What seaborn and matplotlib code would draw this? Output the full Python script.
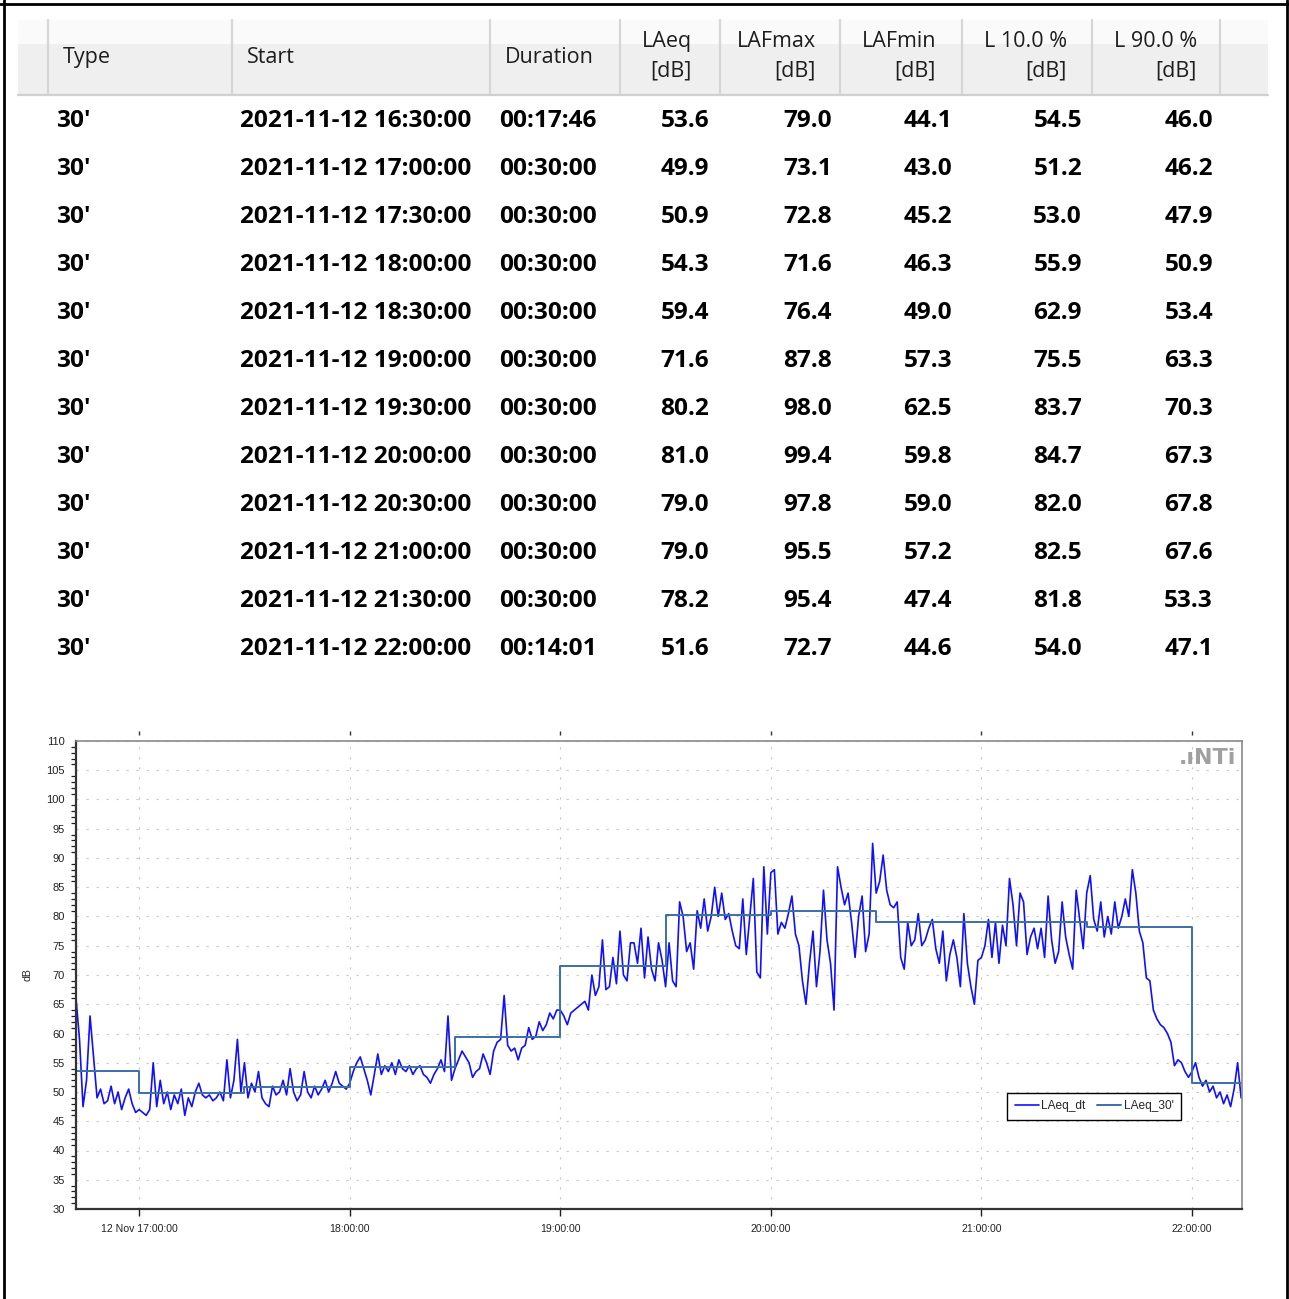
import pandas as pd
import matplotlib.pyplot as plt
import matplotlib.dates as mdates
from matplotlib import font_manager
from matplotlib.lines import Line2D
from matplotlib.patches import Rectangle
from matplotlib.ticker import MultipleLocator
import seaborn as sns

# ---- table data (30 min intervals) ----
types = ["30'"] * 12
starts = ["2021-11-12 16:30:00", "2021-11-12 17:00:00", "2021-11-12 17:30:00",
          "2021-11-12 18:00:00", "2021-11-12 18:30:00", "2021-11-12 19:00:00",
          "2021-11-12 19:30:00", "2021-11-12 20:00:00", "2021-11-12 20:30:00",
          "2021-11-12 21:00:00", "2021-11-12 21:30:00", "2021-11-12 22:00:00"]
durations = ["00:17:46"] + ["00:30:00"] * 10 + ["00:14:01"]
laeq = [53.6, 49.9, 50.9, 54.3, 59.4, 71.6, 80.2, 81.0, 79.0, 79.0, 78.2, 51.6]
lafmax = [79.0, 73.1, 72.8, 71.6, 76.4, 87.8, 98.0, 99.4, 97.8, 95.5, 95.4, 72.7]
lafmin = [44.1, 43.0, 45.2, 46.3, 49.0, 57.3, 62.5, 59.8, 59.0, 57.2, 47.4, 44.6]
l10 = [54.5, 51.2, 53.0, 55.9, 62.9, 75.5, 83.7, 84.7, 82.0, 82.5, 81.8, 54.0]
l90 = [46.0, 46.2, 47.9, 50.9, 53.4, 63.3, 70.3, 67.3, 67.8, 67.6, 53.3, 47.1]

# step edges of the LAeq_30' series
period_edges = ["2021-11-12 16:42:14", "2021-11-12 17:00:00", "2021-11-12 17:30:00",
                "2021-11-12 18:00:00", "2021-11-12 18:30:00", "2021-11-12 19:00:00",
                "2021-11-12 19:30:00", "2021-11-12 20:00:00", "2021-11-12 20:30:00",
                "2021-11-12 21:00:00", "2021-11-12 21:30:00", "2021-11-12 22:00:00",
                "2021-11-12 22:14:01"]

# ---- LAeq_dt, one reading per minute from 16:42 ----
dt_1642 = [66, 59, 47.5, 52, 63, 56, 49, 50.5, 48, 48.5, 51, 48, 50, 47, 49, 50.5, 48, 46.5]
dt_1700 = [47, 46.5, 46, 47, 55, 47.5, 52, 48, 50, 47, 49.5, 48, 50.5, 46, 49,
           47.5, 50, 51.5, 49.5, 49, 49.5, 48.5, 49, 50, 48.5, 55.5, 49, 52, 59, 50]
dt_1730 = [55, 49, 51.5, 50, 53.5, 49, 48, 47.5, 51, 49.5, 50, 52, 49.5, 54, 50,
           48.5, 49.5, 53.5, 50, 49, 51, 49.5, 50.5, 52, 50, 51.5, 53.5, 51.5, 51, 50.5]
dt_1800 = [51.5, 53.5, 55, 56, 54, 52, 49.5, 53, 56.5, 53, 54.5, 53.5, 55, 53, 55.5,
           54, 53.5, 54.5, 53, 54, 54.5, 53, 52.5, 51.5, 53, 54, 55.5, 53.5, 63, 52]
dt_1830 = [54, 55.5, 57, 56, 55, 52.5, 53.5, 54, 56.5, 55, 53, 57, 58.5, 59, 66.5,
           58, 57, 57.5, 55.5, 57.5, 58, 61, 59, 59.5, 62, 60.5, 61.5, 63.5, 62.5, 64]
dt_1900 = [64, 63, 61.5, 63.5, 64, 64.5, 65, 65.5, 64, 70, 66.5, 68, 76, 67.5, 68,
           73, 68.5, 77.5, 70, 69, 75.5, 75.5, 72, 78, 69.5, 76.5, 71, 69, 75.5, 72.5]
dt_1930 = [68, 75.5, 69, 68, 82.5, 80, 74, 75.5, 71, 81, 78, 83, 77.5, 80, 85,
           80, 84, 79.5, 80.5, 77.5, 75, 74.5, 83, 73.5, 80, 86.5, 70.5, 69.5, 88.5, 77]
dt_2000 = [87.5, 88, 77, 79, 78, 80.5, 83.5, 77, 75, 69, 65, 72, 77.5, 68, 74,
           84.5, 76, 72, 64, 88.5, 85, 82, 84, 79, 73, 80, 83.5, 74, 77, 92.5]
dt_2030 = [84, 86, 90.5, 84.5, 82, 81.5, 82.5, 73, 71, 79, 75, 76, 80.5, 75, 76,
           78, 79.5, 74.5, 72, 77.5, 69, 73.5, 76, 73, 68, 80.5, 72, 68, 65, 72.5]
dt_2100 = [73, 75, 79.5, 73, 79, 72, 78.5, 75, 86.5, 82, 75, 84, 82.5, 73.5, 76.5,
           78, 74.5, 78, 73, 83.5, 76, 72, 74, 82.5, 76.5, 73.5, 71, 84.5, 79.5, 74.5]
dt_2130 = [84, 87, 79.5, 77.5, 82.5, 76.5, 80, 77, 82.5, 78, 80, 83, 80, 88, 84,
           77.5, 75.5, 69.5, 69, 64, 62.5, 61.5, 61, 60, 58.5, 54.5, 55.5, 55, 53.5, 52.5]
dt_2200 = [53.5, 55, 52.5, 51, 52, 50, 51, 49, 50, 48, 49.5, 47.5, 50.5, 55, 49]

hour_ticks = ["2021-11-12 17:00", "2021-11-12 18:00", "2021-11-12 19:00",
              "2021-11-12 20:00", "2021-11-12 21:00", "2021-11-12 22:00"]
hour_labels = ["12 Nov 17:00:00", "18:00:00", "19:00:00", "20:00:00", "21:00:00", "22:00:00"]

laeq_dt = (dt_1642 + dt_1700 + dt_1730 + dt_1800 + dt_1830 + dt_1900 + dt_1930
           + dt_2000 + dt_2030 + dt_2100 + dt_2130 + dt_2200)
dt_df = pd.DataFrame({
    "time": pd.date_range("2021-11-12 16:42", periods=len(laeq_dt), freq="1min"),
    "LAeq_dt": laeq_dt,
})
step_df = pd.DataFrame({"time": pd.to_datetime(period_edges), "LAeq_30": laeq + [laeq[-1]]})

sns.set_style("white")
plt.rcParams["font.family"] = ["Open Sans", "DejaVu Sans"]
installed = {f.name for f in font_manager.fontManager.ttflist}
narrow = "Liberation Sans Narrow" if "Liberation Sans Narrow" in installed else "Liberation Sans"
tick_size = 8.5 if narrow == "Liberation Sans Narrow" else 7.6

W, H = 1289, 1299
fig = plt.figure(figsize=(W / 100, H / 100), dpi=100)
fig.patch.set_facecolor("white")


def fx(x):
    return x / W


def fy(y):
    return 1 - y / H


# screenshot border
for xs, ys in [([4, 4], [0, H]), ([0, W], [4, 4]), ([1287, 1287], [0, H])]:
    fig.add_artist(Line2D([fx(v) for v in xs], [fy(v) for v in ys], color="black", lw=2))

# ---- table header ----
fig.add_artist(Rectangle((fx(18), fy(94)), fx(1268) - fx(18), fy(20) - fy(94),
                         transform=fig.transFigure, facecolor="#efefef", edgecolor="none"))
fig.add_artist(Rectangle((fx(18), fy(44)), fx(1268) - fx(18), fy(20) - fy(44),
                         transform=fig.transFigure, facecolor="#fafafa", edgecolor="none"))
for x in [48, 232, 490, 620, 720, 840, 962, 1092, 1220]:
    fig.add_artist(Line2D([fx(x), fx(x)], [fy(20), fy(93)], color="#d6d6d6", lw=1.6))
fig.add_artist(Line2D([fx(18), fx(1268)], [fy(95), fy(95)], color="#d0d0d0", lw=1.6))

hdr = dict(fontsize=15.5, color="#1e1e1e")
fig.text(fx(63), fy(63), "Type", ha="left", va="baseline", **hdr)
fig.text(fx(247), fy(63), "Start", ha="left", va="baseline", **hdr)
fig.text(fx(505), fy(63), "Duration", ha="left", va="baseline", **hdr)
for name, xr in [("LAeq", 692), ("LAFmax", 816), ("LAFmin", 936), ("L 10.0 %", 1067), ("L 90.0 %", 1197)]:
    fig.text(fx(xr), fy(47), name, ha="right", va="baseline", **hdr)
    fig.text(fx(xr), fy(77), "[dB]", ha="right", va="baseline", **hdr)

# ---- table rows ----
cell = dict(fontsize=17.6, fontweight="bold", color="black", va="baseline")
for i in range(len(starts)):
    yb = fy(127 + 48 * i)
    fig.text(fx(56), yb, types[i], ha="left", **cell)
    fig.text(fx(240), yb, starts[i], ha="left", **cell)
    fig.text(fx(499), yb, durations[i], ha="left", **cell)
    for col, xr in [(laeq, 709), (lafmax, 832), (lafmin, 952), (l10, 1082), (l90, 1213)]:
        fig.text(fx(xr), yb, f"{col[i]:.1f}", ha="right", **cell)

# ---- chart ----
ax = fig.add_axes([fx(76), fy(1209), fx(1242) - fx(76), fy(741) - fy(1209)])
sns.lineplot(data=dt_df, x="time", y="LAeq_dt", ax=ax, color="#1010ff", lw=1.2,
             label="LAeq_dt", estimator=None)
sns.lineplot(data=step_df, x="time", y="LAeq_30", ax=ax, color="#3a6fa8", lw=1.4,
             drawstyle="steps-post", label="LAeq_30'", estimator=None)

ax.set_xlim(pd.Timestamp("2021-11-12 16:42:00"), pd.Timestamp("2021-11-12 22:14:15"))
ax.set_ylim(30, 110)
ticks = mdates.date2num(pd.to_datetime(hour_ticks))
ax.set_xticks(ticks)
ax.set_xticklabels(hour_labels)
ax.yaxis.set_major_locator(MultipleLocator(5))
ax.yaxis.set_minor_locator(MultipleLocator(1))
ax.tick_params(axis="y", which="major", direction="out", length=5, width=1, color="#202020",
               labelsize=tick_size + 0.4, pad=3, labelcolor="#222222")
ax.tick_params(axis="y", which="minor", direction="out", length=3.5, width=0.9, color="#202020", left=True)
ax.tick_params(axis="x", which="major", direction="out", length=5, width=1, color="#202020",
               labelsize=tick_size, pad=6, labelcolor="#222222", bottom=True)
for lbl in ax.get_xticklabels() + ax.get_yticklabels():
    lbl.set_family(narrow)

ax.grid(True, which="major", color="#c8c8c8", linestyle=(0, (2, 7)), linewidth=0.8)
for side in ["left", "bottom"]:
    ax.spines[side].set_color("#333333")
    ax.spines[side].set_linewidth(1.6)
for side in ["top", "right"]:
    ax.spines[side].set_color("#8a8a8a")
    ax.spines[side].set_linewidth(1.2)

# detached hour marks above the plot
top = ax.secondary_xaxis(1 + 10 / 468)
top.set_xticks(ticks)
top.tick_params(direction="in", length=3, width=1, color="#333333", labeltop=False)
top.spines["top"].set_visible(False)

ax.set_xlabel("")
ax.set_ylabel("dB", fontsize=tick_size, family=narrow)
ax.yaxis.set_label_coords(-0.037, 0.5)

ax.text(0.995, 0.985, ".ıNTi", transform=ax.transAxes, ha="right", va="top",
        fontsize=16, fontweight="bold", color="#a0a0a0", family="DejaVu Sans")

leg = ax.legend(loc="lower right", bbox_to_anchor=(0.948, 0.19), ncol=2, frameon=True,
                fancybox=False, edgecolor="black", framealpha=1, fontsize=tick_size + 1,
                handlelength=2.0, handletextpad=0.2, columnspacing=1.0, borderpad=0.65,
                borderaxespad=0)
leg.get_frame().set_linewidth(1)
for t in leg.get_texts():
    t.set_family(narrow)

fig.savefig("out.png", dpi=100, facecolor="white")
